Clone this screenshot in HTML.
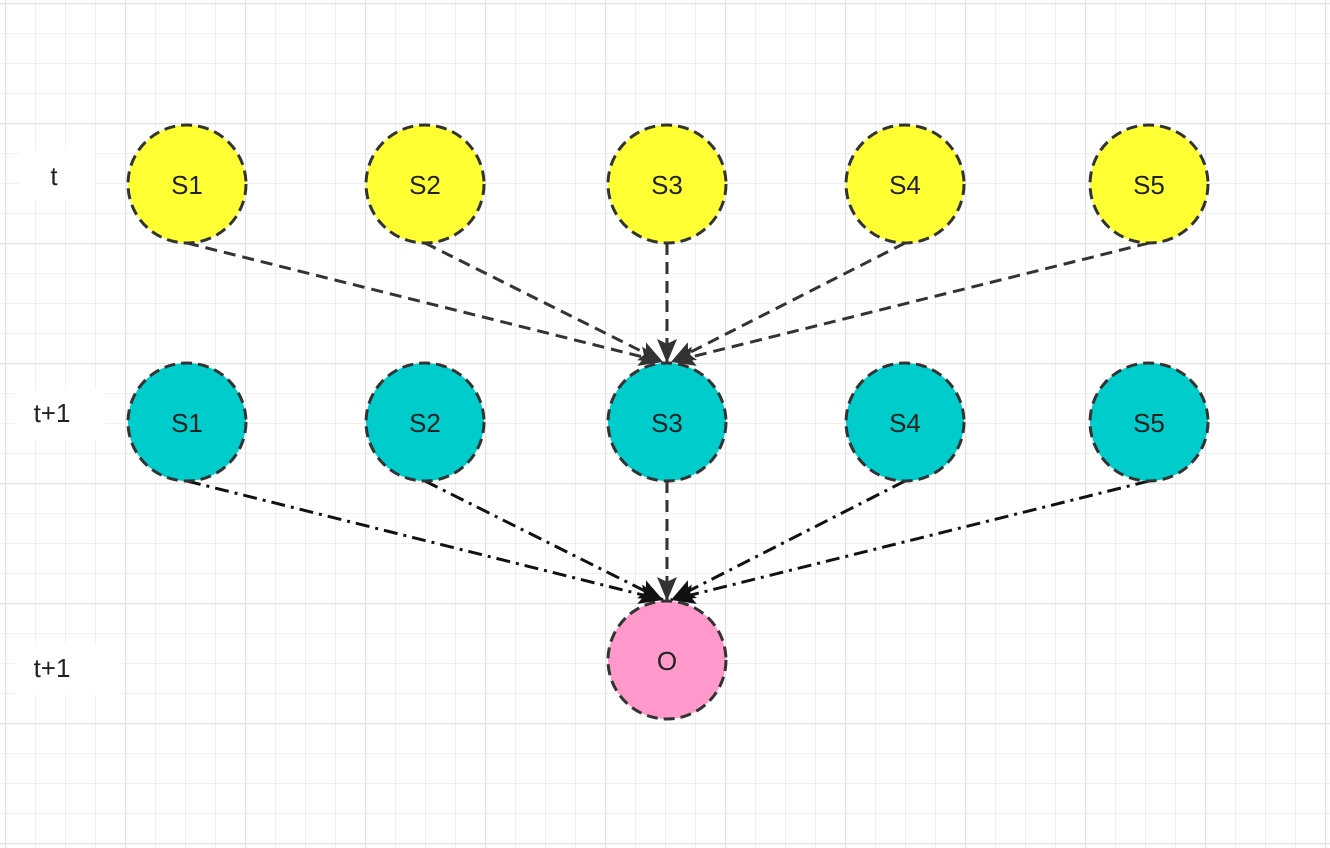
<!DOCTYPE html>
<html><head><style>
body{margin:0;width:1330px;height:848px;overflow:hidden;background:#fff;}
</style></head><body>
<svg width="1330" height="848" xmlns="http://www.w3.org/2000/svg" style="position:absolute;left:0;top:0">
<defs>
<pattern id="g" x="5" y="3" width="30" height="30" patternUnits="userSpaceOnUse">
<path d="M0 0H30M0 0V30" stroke="#ececec" stroke-width="1.5" fill="none"/>
</pattern>
<pattern id="G" x="5" y="3" width="120" height="120" patternUnits="userSpaceOnUse">
<path d="M0 0H120M0 0V120" stroke="#e2e2e2" stroke-width="2.5" fill="none"/>
</pattern>
<marker id="a" viewBox="0 0 10 10" refX="10" refY="5" markerWidth="24" markerHeight="20" markerUnits="userSpaceOnUse" orient="auto" preserveAspectRatio="none">
<path d="M0 0L10 5L0 10L2 5Z" fill="#333"/>
</marker>
<marker id="b" viewBox="0 0 10 10" refX="10" refY="5" markerWidth="24" markerHeight="20" markerUnits="userSpaceOnUse" orient="auto" preserveAspectRatio="none">
<path d="M0 0L10 5L0 10L2 5Z" fill="#111"/>
</marker>
</defs>
<rect width="1330" height="848" fill="url(#g)"/>
<rect width="1330" height="848" fill="url(#G)"/>
<rect x="20" y="150" width="75" height="50" fill="#fff"/>
<rect x="15" y="390" width="90" height="50" fill="#fff"/>
<rect x="15" y="645" width="105" height="50" fill="#fff"/>
<g font-family="Liberation Sans, sans-serif" font-size="26" fill="#222" text-anchor="middle">
<text x="54" y="185">t</text>
<text x="52" y="422">t+1</text>
<text x="52" y="677">t+1</text>
</g>
<g stroke="#333" stroke-width="3" fill="none" stroke-dasharray="12 7" marker-end="url(#a)">
<path d="M187 243L663 362"/>
<path d="M425 243L663 362"/>
<path d="M667 243L667 363"/>
<path d="M905 243L671 362"/>
<path d="M1149 243L671 362"/>
</g>
<g stroke="#111" stroke-width="3" fill="none" stroke-dasharray="14 6 3 6" marker-end="url(#b)">
<path d="M187 481L663 600"/>
<path d="M425 481L663 600"/>
<path d="M905 481L671 600"/>
<path d="M1149 481L671 600"/>
</g>
<path d="M667 481L667 601" stroke="#333" stroke-width="3" stroke-dasharray="12 7" marker-end="url(#a)"/>
<g stroke="#333" stroke-width="3" stroke-dasharray="11 6">
<circle cx="187" cy="184" r="59" fill="#ffff33"/>
<circle cx="425" cy="184" r="59" fill="#ffff33"/>
<circle cx="667" cy="184" r="59" fill="#ffff33"/>
<circle cx="905" cy="184" r="59" fill="#ffff33"/>
<circle cx="1149" cy="184" r="59" fill="#ffff33"/>
<circle cx="187" cy="422" r="59" fill="#00cccc"/>
<circle cx="425" cy="422" r="59" fill="#00cccc"/>
<circle cx="667" cy="422" r="59" fill="#00cccc"/>
<circle cx="905" cy="422" r="59" fill="#00cccc"/>
<circle cx="1149" cy="422" r="59" fill="#00cccc"/>
<circle cx="667" cy="660" r="59" fill="#ff99cc"/>
</g>
<g font-family="Liberation Sans, sans-serif" font-size="26" fill="#222" text-anchor="middle">
<text x="187" y="194">S1</text><text x="425" y="194">S2</text><text x="667" y="194">S3</text><text x="905" y="194">S4</text><text x="1149" y="194">S5</text>
<text x="187" y="432">S1</text><text x="425" y="432">S2</text><text x="667" y="432">S3</text><text x="905" y="432">S4</text><text x="1149" y="432">S5</text>
<text x="667" y="670">O</text>
</g>
</svg>
</body></html>
